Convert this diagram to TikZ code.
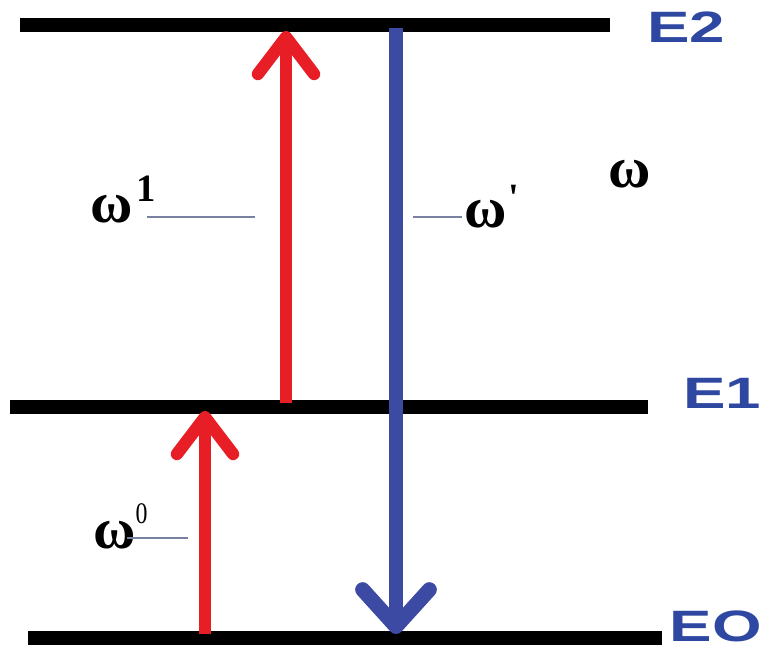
\documentclass[tikz,border=0pt]{standalone}
\usepackage{fontspec}
\setmainfont{Liberation Serif}
\newfontfamily\levelfont{Liberation Sans}
\usetikzlibrary{arrows.meta}

\definecolor{upred}{RGB}{232,30,38}
\definecolor{downblue}{RGB}{60,74,163}
\definecolor{levelblue}{RGB}{46,72,162}
\definecolor{leadgray}{RGB}{120,130,160}

\begin{document}
\begin{tikzpicture}[x=0.02cm, y=-0.02cm,
    level/.style={line width=7.5pt, black},
    up/.style={line width=7pt, upred, -{Straight Barb[length=21pt, width=32pt, round]}},
    down/.style={line width=8.5pt, downblue, -{Straight Barb[length=21pt, width=38pt, round]}},
    lead/.style={line width=0.9pt, leadgray},
    omega/.style={font=\fontsize{33}{33}\selectfont\bfseries, inner sep=0pt},
    elabel/.style={font=\levelfont\fontsize{25}{25}\selectfont\bfseries, text=levelblue, xscale=1.45, inner sep=0pt}]
    \useasboundingbox (0,0) rectangle (764,648);

    % energy levels
    \coordinate (e2l) at (20,25);  \coordinate (e2r) at (610,25);
    \coordinate (e1l) at (10,407); \coordinate (e1r) at (648,407);
    \coordinate (e0l) at (28,638); \coordinate (e0r) at (662,638);
    \draw[level] (e2l) -- (e2r);
    \draw[level] (e1l) -- (e1r);
    \draw[level] (e0l) -- (e0r);

    \node[elabel] (E2) at (686,27) {E2};
    \node[elabel] (E1) at (722,393) {E1};
    \node[elabel] (E0) at (716,626) {EO};

    % transitions
    \coordinate (r0s) at (205,634); \coordinate (r0e) at (205,411);
    \coordinate (r1s) at (286,403); \coordinate (r1e) at (286,31);
    \coordinate (bs) at (396,28);   \coordinate (be) at (396,634);
    \draw[up] (r0s) -- (r0e);
    \draw[up] (r1s) -- (r1e);
    \draw[down] (bs) -- (be);

    % frequencies
    \node[omega, anchor=base west] (w1) at (90,223) {ω\kern2pt\raisebox{12pt}{\fontsize{22}{22}\selectfont 1}};
    \coordinate (w1a) at (147,217); \coordinate (w1b) at (255,217);
    \draw[lead] (w1a) -- (w1b);

    \node[omega, anchor=base west] (wp) at (464,228) {ω\kern1pt\raisebox{10pt}{\fontsize{22}{22}\selectfont\textquotesingle}};
    \coordinate (wpa) at (413,217); \coordinate (wpb) at (462,217);
    \draw[lead] (wpa) -- (wpb);

    \node[omega, anchor=base west] (w0) at (93,548) {ω\raisebox{14pt}{\fontsize{17}{17}\selectfont\mdseries\scalebox{0.8}[1]{0}}};
    \coordinate (w0a) at (127,538); \coordinate (w0b) at (188,538);
    \draw[lead] (w0a) -- (w0b);

    \node[omega] (w) at (630,174) {ω};
\end{tikzpicture}
\end{document}
